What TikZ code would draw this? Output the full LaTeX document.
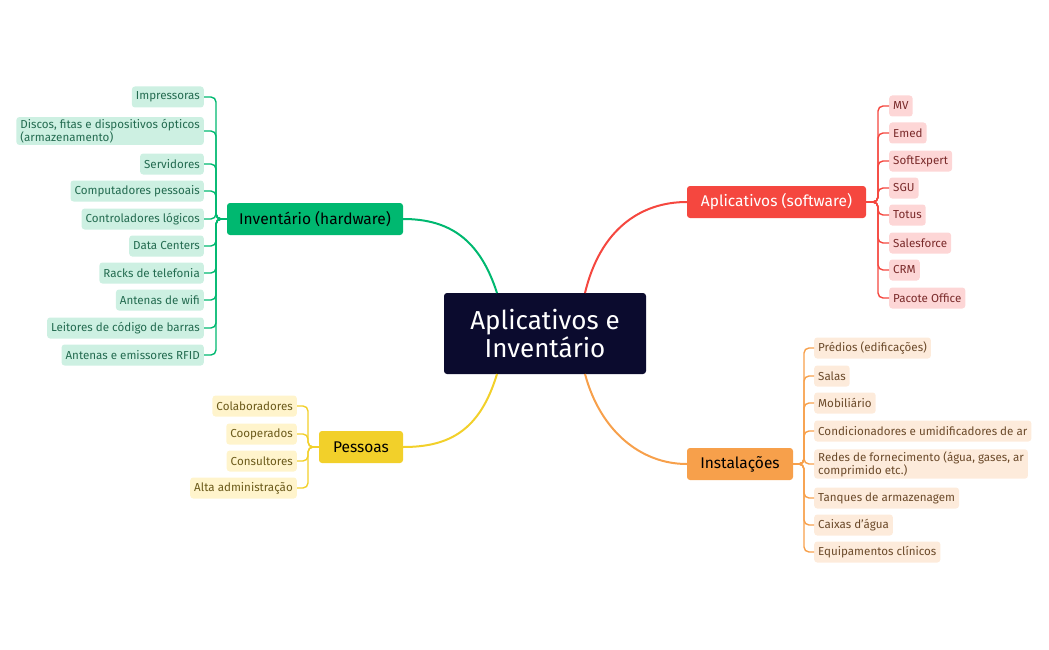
\documentclass[tikz,border=0pt]{standalone}
\usepackage{fontspec}
\setmainfont{Fira Sans}
\usetikzlibrary{calc}
\definecolor{gr}{HTML}{00B870}\definecolor{grl}{HTML}{CDF0E2}\definecolor{grt}{HTML}{236B50}
\definecolor{rd}{HTML}{F5473F}\definecolor{rdl}{HTML}{FDD6D6}\definecolor{rdt}{HTML}{7A2A2A}
\definecolor{og}{HTML}{F7A04B}\definecolor{ogl}{HTML}{FDEBDB}\definecolor{ogt}{HTML}{6B4A2A}
\definecolor{yl}{HTML}{F2D02A}\definecolor{yll}{HTML}{FFF4CC}\definecolor{ylt}{HTML}{6B5A1A}
\definecolor{nv}{HTML}{0B0B2E}
\begin{document}
\begin{tikzpicture}[x=1pt,y=-1pt,
 leaf/.style={rounded corners=3pt,inner xsep=4pt,inner ysep=2pt,minimum height=21pt,font=\fontsize{11.6}{13}\selectfont,align=left},
 gleaf/.style={leaf,fill=grl,text=grt,anchor=east},
 rleaf/.style={leaf,fill=rdl,text=rdt,anchor=west},
 oleaf/.style={leaf,fill=ogl,text=ogt,anchor=west},
 yleaf/.style={leaf,fill=yll,text=ylt,anchor=east},
 topic/.style={rounded corners=3pt,minimum height=32pt,font=\fontsize{15.5}{17}\selectfont,inner xsep=0pt},
 br/.style={line width=1.4pt,rounded corners=5pt},
 mb/.style={line width=2pt}]
\useasboundingbox (0,0) rectangle (1049,650);
\node[fill=nv,text=white,rounded corners=3pt,minimum width=202pt,minimum height=81pt,align=center,font=\fontsize{26}{28}\selectfont] (c) at (545,333.5) {Aplicativos e\\Inventário};
\node[topic,fill=gr,minimum width=176pt] (inv) at (315,219) {Inventário (hardware)};
\node[topic,fill=rd,text=white,minimum width=179pt] (app) at (776.5,202) {Aplicativos (software)};
\node[topic,fill=og,minimum width=106pt] (ins) at (740,464) {Instalações};
\node[topic,fill=yl,minimum width=84pt] (pes) at (361,447) {Pessoas};
\coordinate (c1) at (497,293);\coordinate (c2) at (585,293);
\coordinate (c3) at (497,374);\coordinate (c4) at (585,374);
\draw[mb,gr] (c1) .. controls (480,240) and (450,219) .. (inv.east);
\draw[mb,rd] (c2) .. controls (600,230) and (640,202) .. (app.west);
\draw[mb,yl] (c3) .. controls (480,430) and (450,447) .. (pes.east);
\draw[mb,og] (c4) .. controls (600,430) and (640,464) .. (ins.west);
% green
\foreach \n/\y/\t in {g1/97/Impressoras,g2/131/{Discos, fitas e dispositivos ópticos\\(armazenamento)},g3/164/Servidores,g4/191/Computadores pessoais,g5/219/Controladores lógicos,g6/246/Data Centers,g7/273/Racks de telefonia,g8/300/Antenas de wifi,g9/328/Leitores de código de barras,g10/355/Antenas e emissores RFID}{
 \node[gleaf] (\n) at (204,\y) {\t};
 \draw[br,gr] (inv.west) -- (216,219) |- (\n.east);}
% red
\foreach \n/\y/\t in {r1/106/MV,r2/133/Emed,r3/161/SoftExpert,r4/188/SGU,r5/215/Totus,r6/243/Salesforce,r7/270/CRM,r8/298/Pacote Office}{
 \node[rleaf] (\n) at (889,\y) {\t};
 \draw[br,rd] (app.east) -- (878,202) |- (\n.west);}
% orange
\foreach \n/\y/\t in {o1/348/Prédios (edificações),o2/376/Salas,o3/403/Mobiliário,o4/431/Condicionadores e umidificadores de ar,o5/464/{Redes de fornecimento (água, gases, ar\\comprimido etc.)},o6/498/Tanques de armazenagem,o7/525/Caixas d'água,o8/552/Equipamentos clínicos}{
 \node[oleaf] (\n) at (814,\y) {\t};
 \draw[br,og] (ins.east) -- (804,464) |- (\n.west);}
% yellow
\foreach \n/\y/\t in {y1/406/Colaboradores,y2/434/Cooperados,y3/461/Consultores,y4/488/Alta administração}{
 \node[yleaf] (\n) at (297,\y) {\t};
 \draw[br,yl] (pes.west) -- (308,447) |- (\n.east);}
\end{tikzpicture}
\end{document}
